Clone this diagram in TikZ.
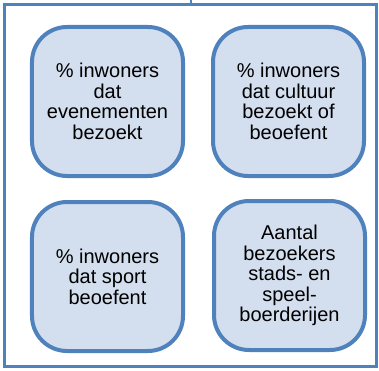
\documentclass[tikz,border=0pt]{standalone}
\usepackage{fontspec}
\setmainfont{Liberation Sans}
\usepackage{tikz}
\usetikzlibrary{positioning}

\definecolor{kaderblauw}{RGB}{79,129,189}
\definecolor{vakblauw}{RGB}{211,222,238}

\begin{document}
\begin{tikzpicture}[x=1bp,y=1bp,
    indicator/.style={draw=kaderblauw,
        line width=4bp,
        fill=vakblauw,
        rounded corners=35bp,
        minimum width=151bp,
        minimum height=149bp,
        align=center,
        inner sep=0pt,
        font=\fontsize{20bp}{20.5bp}\selectfont
    }
]
    \useasboundingbox (0,0) rectangle (379,371);

    % kader
    \node[draw=kaderblauw,
        line width=3bp,
        minimum width=371bp,
        minimum height=362bp,
        inner sep=0pt
    ] (kader) at (190.5,185.5) {};

    \draw[draw=kaderblauw, line width=2bp] (kader.north) -- ++(0,6bp);

    % evenementen
    \node[indicator] (evenementen) at (107.5,269.5)
        {\% inwoners\\dat\\evenementen\\bezoekt};

    % cultuur
    \node[indicator,
        right=26bp of evenementen
    ] (cultuur) {\% inwoners\\dat cultuur\\bezoekt of\\beoefent};

    % sport
    \node[indicator,
        below=22bp of evenementen
    ] (sport) {\% inwoners\\dat sport\\beoefent};

    % boerderijen
    \node[indicator,
        right=27bp of sport,
        yshift=1bp
    ] (boerderijen) {Aantal\\bezoekers\\stads- en\\speel-\\boerderijen};

\end{tikzpicture}
\end{document}
